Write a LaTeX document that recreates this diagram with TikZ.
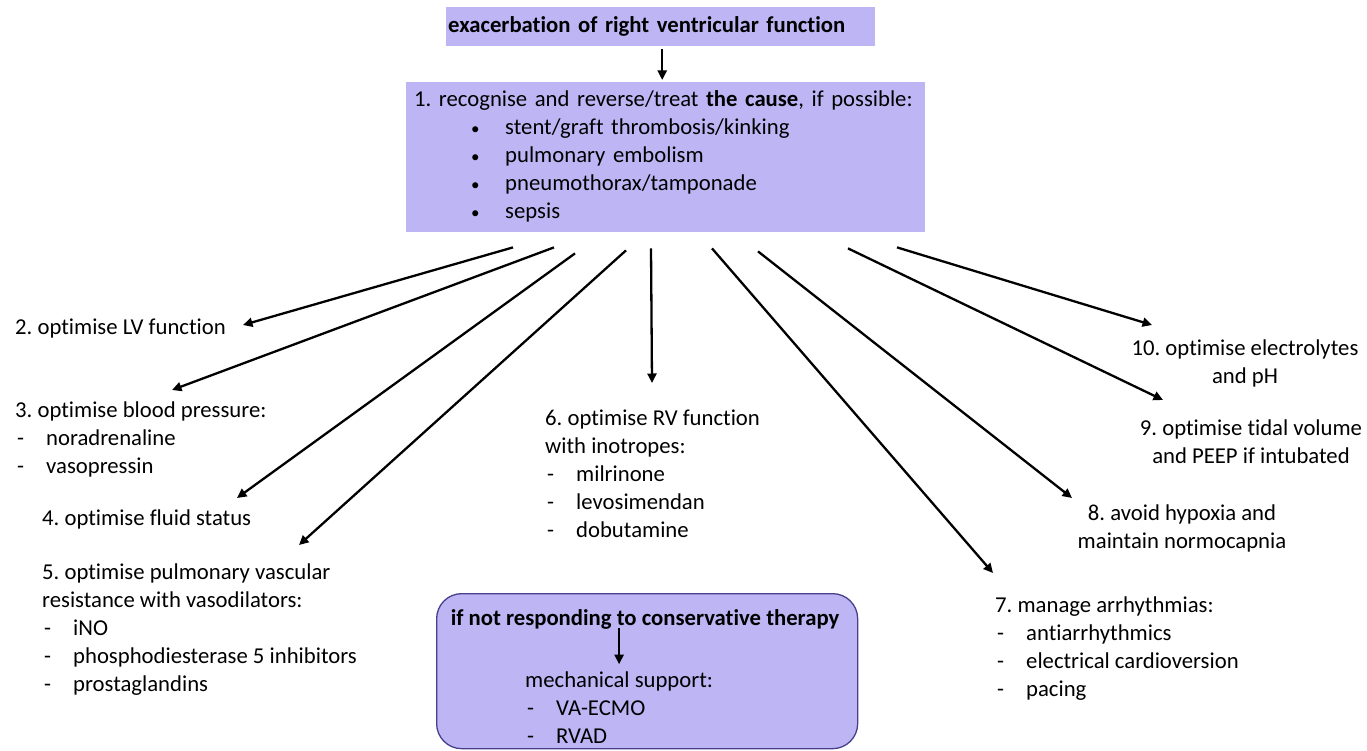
\documentclass[tikz,border=0pt]{standalone}
\usepackage{fontspec}
\setmainfont{Carlito}[Ligatures={NoCommon}]
\usetikzlibrary{arrows.meta}
\definecolor{lav}{RGB}{190,181,245}
\definecolor{bord}{RGB}{72,64,140}
\newcommand{\dit}[1]{\hspace*{2pt}\makebox[29pt][l]{-}#1}
\newcommand{\bit}[1]{\hspace*{57pt}\makebox[34pt][l]{\fontsize{17}{28}\selectfont\textbullet}#1}
\newcommand{\blkL}[1]{\begin{tabular}[t]{@{}l@{}}#1\end{tabular}}
\newcommand{\blkC}[1]{\begin{tabular}[t]{@{}c@{}}#1\end{tabular}}
\frenchspacing
\begin{document}
\frenchspacing
\begin{tikzpicture}[x=1pt,y=-1pt,
  every node/.style={font=\fontsize{22.7}{28}\selectfont\frenchspacing, inner sep=0pt},
  bfnode/.style={font=\fontsize{22.7}{28}\selectfont\frenchspacing\bfseries},
  arr/.style={line width=2.3pt, -{Triangle[length=9.5pt,width=9pt]}},
  lbox/.style={fill=lav}]
\useasboundingbox (0,0) rectangle (1367,751);

% top box
\node[lbox, bfnode, minimum width=429pt, minimum height=39pt, text width=425pt,
      align=left, inner xsep=2pt, anchor=north west] (top) at (446,7)
      {exacerbation of right ventricular function};

% box 1
\node[lbox, minimum width=515pt, minimum height=150pt, text width=503pt,
      align=left, inner xsep=8pt, anchor=north west] (b1) at (406,82)
      {\blkL{1. recognise and reverse/treat \textbf{the cause}, if possible:\\
       \bit{stent/graft thrombosis/kinking}\\
       \bit{pulmonary embolism}\\
       \bit{pneumothorax/tamponade}\\
       \bit{sepsis}}};

\draw[arr, shorten <=3pt, shorten >=2pt] ([xshift=1.5pt]top.south) -- ([xshift=1.5pt]top.south |- b1.north);

% targets
\node[anchor=base west] (n2) at (15,334) {\blkL{2. optimise LV function}};
\node[anchor=base west] (n3) at (15,417) {\blkL{3. optimise blood pressure:\\ \dit{noradrenaline}\\ \dit{vasopressin}}};
\node[anchor=base west] (n4) at (42,525) {\blkL{4. optimise fluid status}};
\node[anchor=base west] (n5) at (42,579) {\blkL{5. optimise pulmonary vascular\\ resistance with vasodilators:\\ \dit{iNO}\\ \dit{phosphodiesterase 5 inhibitors}\\ \dit{prostaglandins}}};
\node[anchor=base west] (n6) at (545,425) {\blkL{6. optimise RV function\\ with inotropes:\\ \dit{milrinone}\\ \dit{levosimendan}\\ \dit{dobutamine}}};
\node[anchor=base west] (n7) at (995,612) {\blkL{7. manage arrhythmias:\\ \dit{antiarrhythmics}\\ \dit{electrical cardioversion}\\ \dit{pacing}}};
\node[anchor=base] (n8) at (1182,520) {\blkC{8. avoid hypoxia and\\ maintain normocapnia}};
\node[anchor=base] (n9) at (1251,435) {\blkC{9. optimise tidal volume\\ and PEEP if intubated}};
\node[anchor=base] (n10) at (1245,355) {\blkC{10. optimise electrolytes\\ and pH}};

% arrows
\draw[arr] ([shift={(107,15)}]b1.south west) -- ([shift={(228,-9)}]n2.base west);
\draw[arr] ([shift={(148,15)}]b1.south west) -- ([shift={(157,-27)}]n3.base west);
\draw[arr] ([shift={(169,21)}]b1.south west) -- ([shift={(195,-27)}]n4.base west);
\draw[arr] ([shift={(220,18)}]b1.south west) -- ([shift={(257,-34)}]n5.base west);
\draw[arr] ([shift={(245,16)}]b1.south west) -- ([shift={(107,-42)}]n6.base west);
\draw[arr] ([shift={(306,16)}]b1.south west) -- ([shift={(-2,-39)}]n7.base west);
\draw[arr] ([shift={(352,19)}]b1.south west) -- ([shift={(-110,-22)}]n8.base);
\draw[arr] ([shift={(442,16)}]b1.south west) -- ([shift={(-88,-35)}]n9.base);
\draw[arr] ([shift={(491,15)}]b1.south west) -- ([shift={(-93,-30)}]n10.base);

% bottom box
\node[lbox, draw=bord, line width=1.3pt, rounded corners=25pt, minimum width=421pt,
      minimum height=155pt, anchor=north west] (bb) at (436,593) {};
\node[bfnode, anchor=base] (bt) at (645,625) {if not responding to conservative therapy};
\node[anchor=base west] (ms) at (525,687) {\blkL{mechanical support:\\ \dit{VA-ECMO}\\ \dit{RVAD}}};
\draw[arr, shorten <=-1pt, shorten >=3pt] (bt.south -| ms.north) -- (ms.north);
\end{tikzpicture}
\end{document}
